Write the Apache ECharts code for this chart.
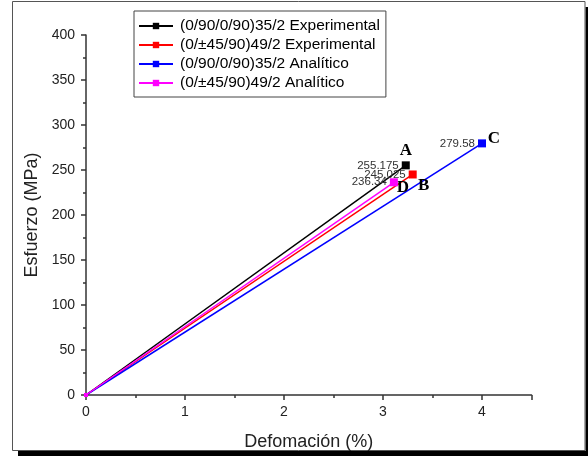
<!DOCTYPE html>
<html>
<head>
<meta charset="utf-8">
<script src="https://cdn.jsdelivr.net/npm/echarts@6/dist/echarts.min.js"></script>
<style>
html,body{margin:0;padding:0;background:#fff;}
#c{width:588px;height:456px;}
</style>
</head>
<body>
<div id="c"></div>
<script>
const seriesNames = [
  '(0/90/0/90)35/2 Experimental',
  '(0/±45/90)49/2 Experimental',
  '(0/90/0/90)35/2 Analítico',
  '(0/±45/90)49/2 Analítico'
];
const seriesColors = ['#000000', '#ff0000', '#0000ff', '#ff00ff'];
const strainStart = [0, 0, 0, 0];
const stressStart = [0, 0, 0, 0];
const strainEnd = [3.23, 3.30, 4.0, 3.11];
const stressEnd = [255.175, 245.025, 279.58, 236.34];
const endLabels = ['255.175', '245.025', '279.58', '236.34'];
const pointLetters = ['A', 'B', 'C', 'D'];
const letterOffsets = [[0, -15], [11, 11], [12, -5], [9, 5]];
const xTicks = [0, 1, 2, 3, 4];
const yTicks = [0, 50, 100, 150, 200, 250, 300, 350, 400];

const chart = echarts.init(document.getElementById('c'));

const series = seriesNames.map((name, i) => ({
  name: name,
  type: 'line',
  color: seriesColors[i],
  symbol: 'rect',
  symbolSize: 8,
  lineStyle: { width: 1.5, color: seriesColors[i] },
  itemStyle: { color: seriesColors[i] },
  clip: false,
  z: 2 + i,
  data: [
    { value: [strainStart[i], stressStart[i]], symbolSize: 4 },
    {
      value: [strainEnd[i], stressEnd[i]],
      label: {
        show: true,
        position: 'left',
        distance: 3,
        formatter: () => endLabels[i],
        color: '#333',
        fontSize: 11.5,
        fontFamily: 'Liberation Sans, Arial, sans-serif'
      }
    }
  ],
  markPoint: {
    symbol: 'circle',
    symbolSize: 0,
    silent: true,
    data: [{
      coord: [strainEnd[i], stressEnd[i]],
      label: {
        show: true,
        formatter: pointLetters[i],
        offset: letterOffsets[i],
        color: '#000',
        fontSize: 17,
        fontWeight: 'bold',
        fontFamily: 'Liberation Serif, Times New Roman, serif'
      }
    }]
  }
}));

const option = {
  animation: false,
  backgroundColor: '#fff',
  graphic: [
    { type: 'rect', shape: { x: 18, y: 451, width: 570, height: 5 }, style: { fill: '#000' }, z: -1 },
    { type: 'rect', shape: { x: 585.5, y: 7, width: 2.5, height: 449 }, style: { fill: '#000' }, z: -1 },
    { type: 'rect', shape: { x: 12.5, y: 1.5, width: 572.5, height: 449 }, style: { fill: '#fff', stroke: '#555', lineWidth: 1 }, z: -1 }
  ],
  grid: { left: 86, top: 35, width: 445.5, height: 360, containLabel: false },
  legend: {
    orient: 'vertical',
    left: 134,
    top: 11,
    itemWidth: 34,
    itemHeight: 8,
    itemGap: 3,
    padding: [7, 6, 6, 4],
    borderColor: '#444',
    borderWidth: 1,
    backgroundColor: '#fff',
    textStyle: { color: '#000', fontSize: 15.5, fontFamily: 'Liberation Sans, Arial, sans-serif', padding: [0, 0, 0, 2] },
    data: seriesNames
  },
  xAxis: {
    type: 'value',
    min: 0,
    max: 4.5,
    interval: 1,
    minorTick: { show: true, splitNumber: 2, length: 3, lineStyle: { color: '#333', width: 1.5 } },
    splitLine: { show: false },
    axisLine: { show: true, onZero: false, lineStyle: { color: '#333', width: 1.5 } },
    axisTick: { show: true, inside: false, length: 5, lineStyle: { color: '#333', width: 1.5 } },
    axisLabel: {
      margin: 10,
      color: '#222',
      fontSize: 14,
      fontFamily: 'Liberation Sans, Arial, sans-serif',
      showMaxLabel: false,
      formatter: v => (xTicks.includes(v) ? String(v) : '')
    },
    name: 'Defomación (%)',
    nameLocation: 'middle',
    nameGap: 38,
    nameTextStyle: { color: '#222', fontSize: 18, fontFamily: 'Liberation Sans, Arial, sans-serif' }
  },
  yAxis: {
    type: 'value',
    min: 0,
    max: 400,
    interval: 50,
    minorTick: { show: true, splitNumber: 2, length: 3, lineStyle: { color: '#333', width: 1.5 } },
    splitLine: { show: false },
    axisLine: { show: true, onZero: false, lineStyle: { color: '#333', width: 1.5 } },
    axisTick: { show: true, inside: false, length: 5, lineStyle: { color: '#333', width: 1.5 } },
    axisLabel: {
      margin: 11,
      color: '#222',
      fontSize: 14,
      fontFamily: 'Liberation Sans, Arial, sans-serif',
      formatter: v => (yTicks.includes(v) ? String(v) : '')
    },
    name: 'Esfuerzo (MPa)',
    nameLocation: 'middle',
    nameGap: 40,
    nameTextStyle: { color: '#222', fontSize: 18, fontFamily: 'Liberation Sans, Arial, sans-serif' }
  },
  series: series
};

chart.setOption(option);
</script>
</body>
</html>
